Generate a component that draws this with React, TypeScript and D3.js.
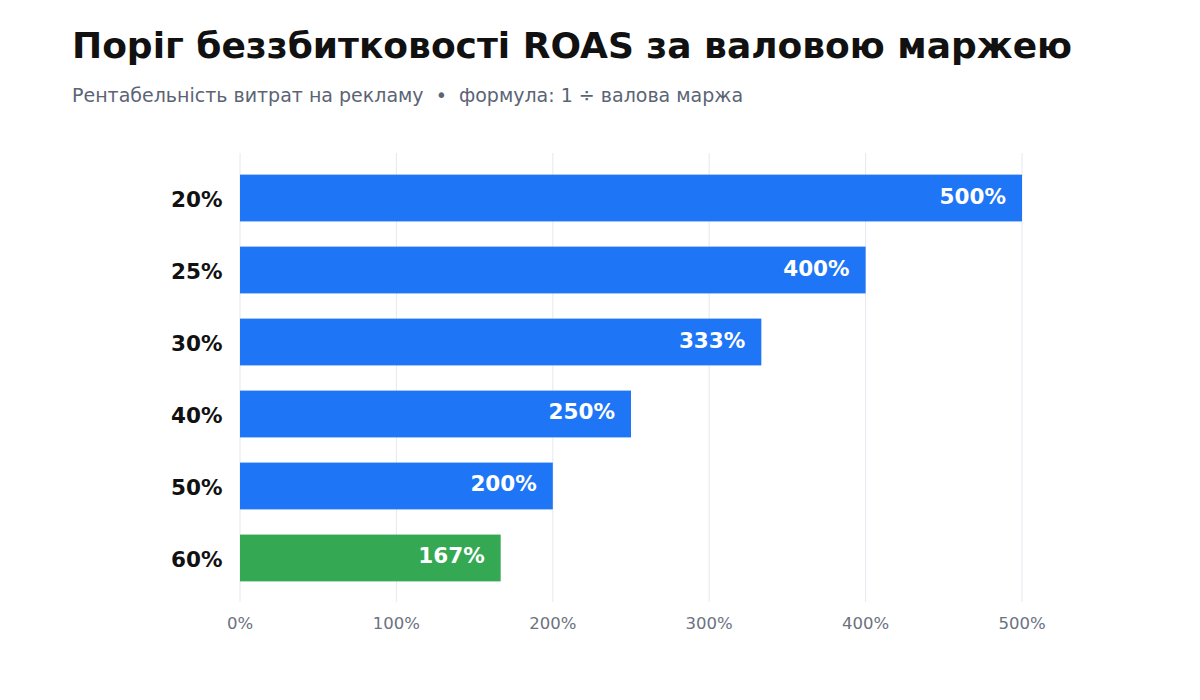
import React, { useEffect, useRef } from 'react';
import * as d3 from 'd3';

const margins = ['20%', '25%', '30%', '40%', '50%', '60%'];
const roasValues = [500, 400, 333.33, 250, 200, 166.67];
const valueLabels = ['500%', '400%', '333%', '250%', '200%', '167%'];
const xTicks = [0, 100, 200, 300, 400, 500];
const highlightIndex = 5;

const FONT = "'DejaVu Sans', sans-serif";

const App: React.FC = () => {
  const svgRef = useRef<SVGSVGElement>(null);

  useEffect(() => {
    if (!svgRef.current) return;
    const svg = d3.select(svgRef.current);
    svg.selectAll('*').remove();

    const x = d3.scaleLinear().domain([0, 500]).range([240, 1022]);
    const y = d3.scaleBand<string>().domain(margins).range([150, 606]).paddingInner(0.35).paddingOuter(0.342);

    svg.append('rect').attr('width', 1200).attr('height', 700).attr('fill', '#ffffff');

    // title + subtitle
    svg.append('text')
      .attr('x', 72).attr('y', 58)
      .attr('font-family', FONT).attr('font-size', 36).attr('font-weight', 'bold')
      .attr('fill', '#111111')
      .text('Поріг беззбитковості ROAS за валовою маржею');

    svg.append('text')
      .attr('x', 72).attr('y', 102)
      .attr('font-family', FONT).attr('font-size', 19)
      .attr('fill', '#5b6474')
      .style('white-space', 'pre')
      .text('Рентабельність витрат на рекламу  •  формула: 1 ÷ валова маржа');

    // grid
    svg.append('g').selectAll('line').data(xTicks).join('line')
      .attr('x1', d => x(d)).attr('x2', d => x(d))
      .attr('y1', 153).attr('y2', 602)
      .attr('stroke', '#e6e8f0').attr('stroke-width', 1);

    // x tick labels
    svg.append('g').selectAll('text').data(xTicks).join('text')
      .attr('x', d => x(d)).attr('y', 628.5)
      .attr('text-anchor', 'middle')
      .attr('font-family', FONT).attr('font-size', 16.5)
      .attr('fill', '#6b7280')
      .text(d => `${d}%`);

    // bars
    svg.append('g').selectAll('rect').data(roasValues).join('rect')
      .attr('x', x(0))
      .attr('y', (_, i) => y(margins[i]) as number)
      .attr('width', d => x(d) - x(0))
      .attr('height', y.bandwidth())
      .attr('fill', (_, i) => (i === highlightIndex ? '#34a853' : '#1e75f6'));

    // value labels
    svg.append('g').selectAll('text').data(roasValues).join('text')
      .attr('x', d => x(d) - 16)
      .attr('y', (_, i) => (y(margins[i]) as number) + y.bandwidth() / 2 + 5.5)
      .attr('text-anchor', 'end')
      .attr('font-family', FONT).attr('font-size', 21.5).attr('font-weight', 'bold')
      .attr('fill', '#ffffff')
      .text((_, i) => valueLabels[i]);

    // category labels
    svg.append('g').selectAll('text').data(margins).join('text')
      .attr('x', 222.5)
      .attr('y', d => (y(d) as number) + y.bandwidth() / 2 + 8.7)
      .attr('text-anchor', 'end')
      .attr('font-family', FONT).attr('font-size', 21.5).attr('font-weight', 'bold')
      .attr('fill', '#111111')
      .text(d => d);
  }, []);

  return (
    <div style={{ position: 'absolute', left: 0, top: 0, width: 1200, height: 700 }}>
      <svg ref={svgRef} width={1200} height={700} style={{ display: 'block' }} />
    </div>
  );
};

export default App;
